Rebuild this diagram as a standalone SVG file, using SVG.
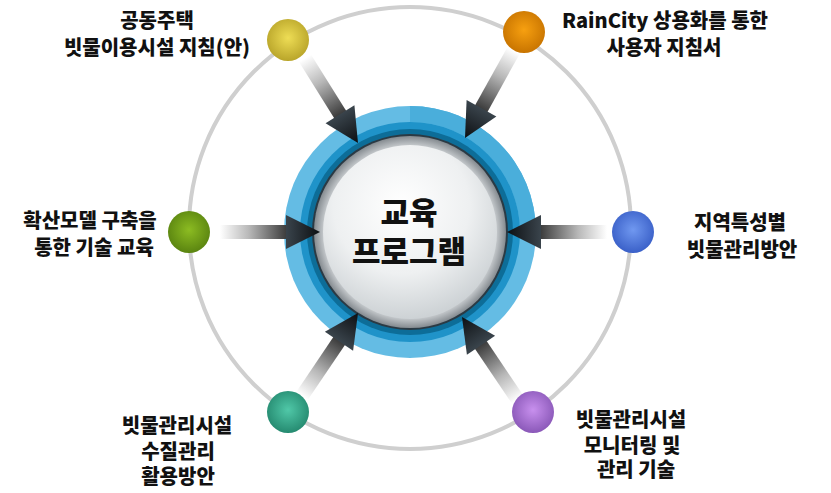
<svg xmlns="http://www.w3.org/2000/svg" width="831" height="493" viewBox="0 0 831 493">
<style>
.lbl{font-family:"Noto Sans CJK KR","Noto Sans",sans-serif;font-weight:900;font-size:20px;fill:#111;text-anchor:middle}
.ctr{font-family:"Noto Sans CJK KR","Noto Sans",sans-serif;font-weight:900;font-size:31px;fill:#111;text-anchor:middle}
.shaft{fill:url(#shaftG)}
.head{fill:url(#headG)}
</style>
<defs>
<linearGradient id="shaftG" x1="0" y1="0" x2="1" y2="0">
<stop offset="0" stop-color="#ffffff"/>
<stop offset="0.4" stop-color="#b8b8b8"/>
<stop offset="1" stop-color="#2a2a2a"/>
</linearGradient>
<linearGradient id="headG" x1="0" y1="0" x2="1" y2="0">
<stop offset="0" stop-color="#3a444c"/>
<stop offset="1" stop-color="#0c0f12"/>
</linearGradient>
<radialGradient id="discG" cx="0.5" cy="0.5" r="0.5">
<stop offset="0.85" stop-color="#e6e9eb"/>
<stop offset="1" stop-color="#858b90"/>
</radialGradient>
<radialGradient id="innerG" cx="0.45" cy="0.35" r="0.65">
<stop offset="0" stop-color="#ffffff"/>
<stop offset="0.6" stop-color="#eef0f1"/>
<stop offset="1" stop-color="#cdd2d5"/>
</radialGradient>
<radialGradient id="gYel" cx="0.5" cy="0.45" r="0.55"><stop offset="0" stop-color="#eedd55"/><stop offset="1" stop-color="#b9a52a"/></radialGradient>
<radialGradient id="gOra" cx="0.5" cy="0.45" r="0.55"><stop offset="0" stop-color="#f7a010"/><stop offset="1" stop-color="#c87400"/></radialGradient>
<radialGradient id="gBlu" cx="0.5" cy="0.45" r="0.55"><stop offset="0" stop-color="#7098f0"/><stop offset="1" stop-color="#3a60c8"/></radialGradient>
<radialGradient id="gGrn" cx="0.5" cy="0.45" r="0.55"><stop offset="0" stop-color="#8cbc22"/><stop offset="1" stop-color="#5a8410"/></radialGradient>
<radialGradient id="gTea" cx="0.5" cy="0.45" r="0.55"><stop offset="0" stop-color="#50c8a8"/><stop offset="1" stop-color="#258a70"/></radialGradient>
<radialGradient id="gPur" cx="0.5" cy="0.45" r="0.55"><stop offset="0" stop-color="#c890ee"/><stop offset="1" stop-color="#8a58b8"/></radialGradient>
<g id="arrow">
<rect class="shaft" x="-100" y="-7" width="72" height="14"/>
<polygon class="head" points="0,0 -34,-17 -34,17"/>
</g>
</defs>
<rect width="831" height="493" fill="#ffffff"/>
<circle cx="410" cy="228" r="221" fill="none" stroke="#cfcfcf" stroke-width="4"/>
<g id="hub">
<circle cx="410" cy="232" r="126" fill="#64bce4"/>
<path d="M410,106 A126,126 0 0 1 536,232 L520,232 A110,110 0 0 0 410,122 Z" fill="#4aaedb"/>
<circle cx="410" cy="232" r="110" fill="#1f93c9"/>
<circle cx="410" cy="232" r="103" fill="#0d6d98"/>
<circle cx="410" cy="232" r="98" fill="#2b3a44"/>
<circle cx="410" cy="232" r="96" fill="url(#discG)"/>
<circle cx="410" cy="232" r="87" fill="url(#innerG)"/>
<text class="ctr" x="409" y="224">교육</text>
<text class="ctr" x="409" y="263">프로그램</text>
</g>
<g id="connectors">
<use href="#arrow" transform="translate(320,232) rotate(0)"/>
<use href="#arrow" transform="translate(507,232) rotate(180)"/>
<use href="#arrow" transform="translate(358,143) rotate(58)"/>
<use href="#arrow" transform="translate(465,138) rotate(119)"/>
<use href="#arrow" transform="translate(358,313) rotate(-56)"/>
<use href="#arrow" transform="translate(462,317) rotate(-124)"/>
</g>
<g id="n1">
<circle cx="288" cy="40" r="21" fill="url(#gYel)"/>
<text class="lbl" x="157" y="28">공동주택</text>
<text class="lbl" x="157" y="55">빗물이용시설 지침(안)</text>
</g>
<g id="n2">
<circle cx="524" cy="32" r="21" fill="url(#gOra)"/>
<text class="lbl" x="665" y="28">RainCity 상용화를 통한</text>
<text class="lbl" x="664" y="55">사용자 지침서</text>
</g>
<g id="n3">
<circle cx="633" cy="232" r="21" fill="url(#gBlu)"/>
<text class="lbl" x="740" y="230">지역특성별</text>
<text class="lbl" x="742" y="257">빗물관리방안</text>
</g>
<g id="n4">
<circle cx="189" cy="232" r="21" fill="url(#gGrn)"/>
<text class="lbl" x="90" y="228">확산모델 구축을</text>
<text class="lbl" x="94" y="255">통한 기술 교육</text>
</g>
<g id="n5">
<circle cx="288" cy="412" r="21" fill="url(#gTea)"/>
<text class="lbl" x="177" y="433">빗물관리시설</text>
<text class="lbl" x="178" y="459">수질관리</text>
<text class="lbl" x="178" y="484">활용방안</text>
</g>
<g id="n6">
<circle cx="533" cy="412" r="21" fill="url(#gPur)"/>
<text class="lbl" x="631" y="427">빗물관리시설</text>
<text class="lbl" x="632" y="453">모니터링 및</text>
<text class="lbl" x="636" y="477">관리 기술</text>
</g>
</svg>
